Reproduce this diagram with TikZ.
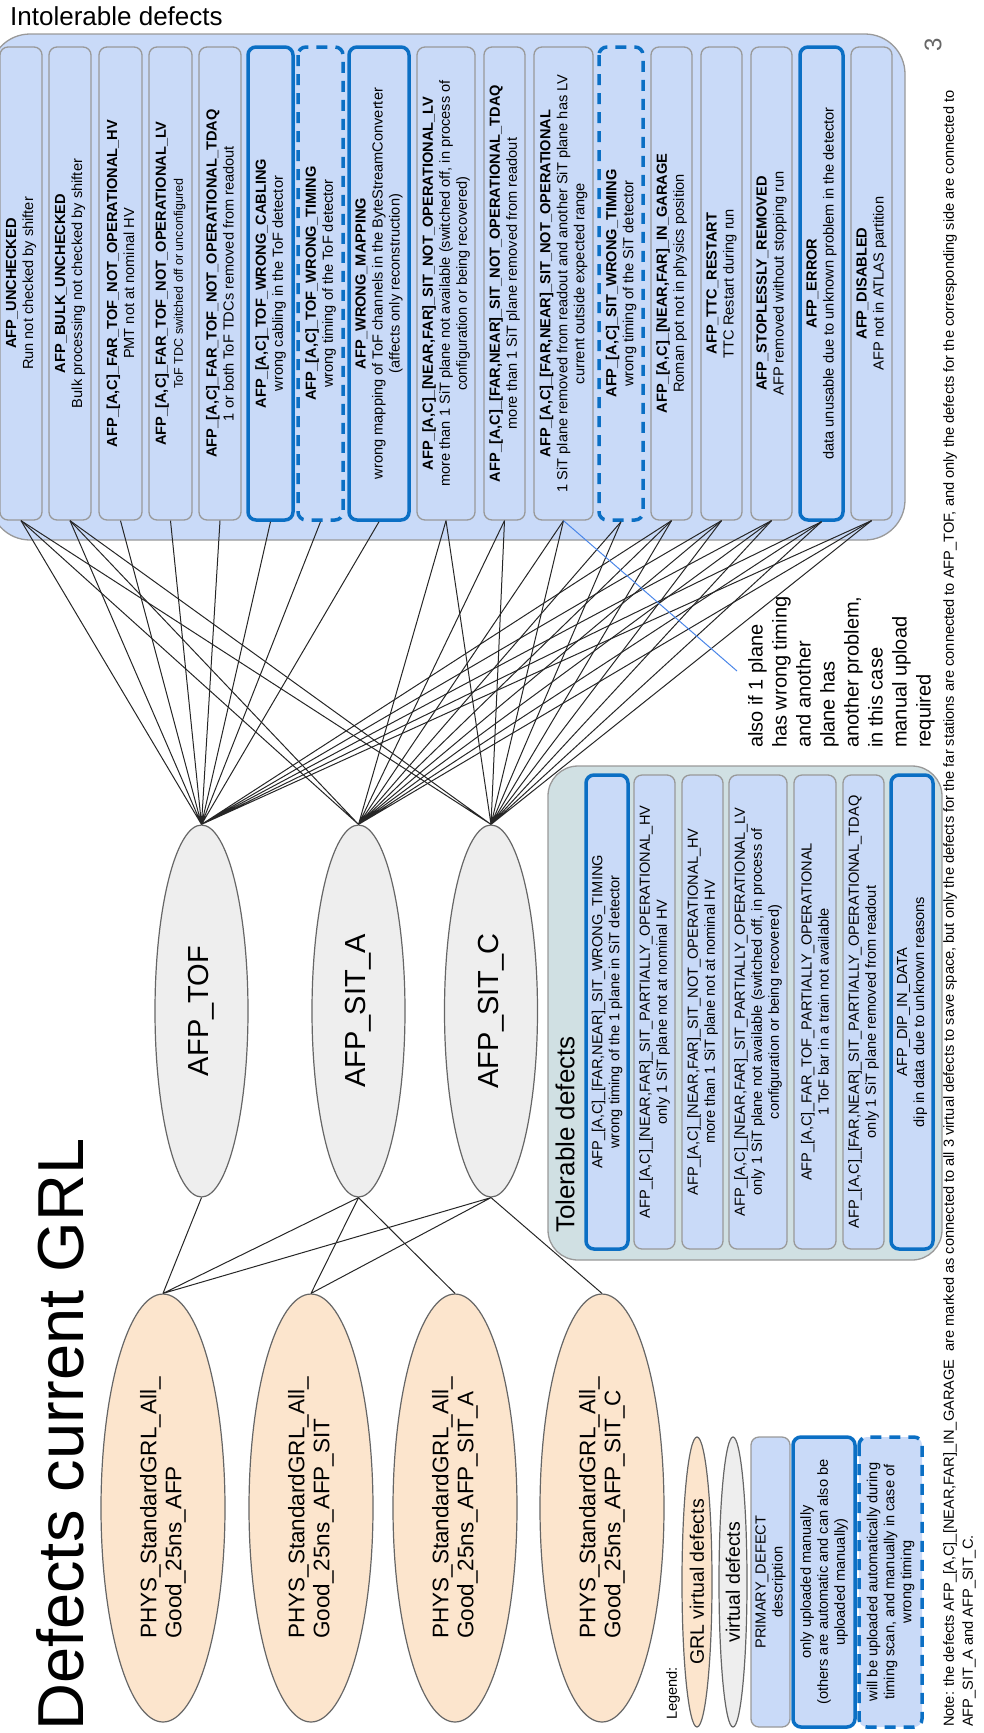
\documentclass[tikz,border=0pt]{standalone}
\usepackage{fontspec}
\setmainfont{Liberation Sans}
\usetikzlibrary{shapes.geometric}

\definecolor{defectfill}{HTML}{C9DAF8}
\definecolor{defectline}{HTML}{999999}
\definecolor{tolfill}{HTML}{D0E0E3}
\definecolor{uploadblue}{HTML}{0B6FC4}
\definecolor{virtfill}{HTML}{EEEEEE}
\definecolor{grlfill}{HTML}{FCE5CD}
\definecolor{ovalline}{HTML}{666666}
\definecolor{remarkblue}{HTML}{4A86E8}
\definecolor{pagegray}{HTML}{666666}

\tikzset{
    defect/.style={draw=defectline, line width=1.3, fill=defectfill, rounded corners=8,
        minimum width=473, inner sep=1, align=center, font=\fontsize{14.6}{17}\selectfont},
    manualonly/.style={draw=uploadblue, line width=3.5},
    autotiming/.style={draw=uploadblue, line width=3.5, dash pattern=on 11 off 8},
    virtdefect/.style={ellipse, draw=ovalline, line width=1.2, fill=virtfill, inner sep=0},
    grldefect/.style={ellipse, draw=ovalline, line width=1.2, fill=grlfill, inner sep=0},
    dep/.style={draw=black!85, line width=1},
}

\begin{document}
\begin{tikzpicture}[x=1pt, y=1pt]
    \useasboundingbox (0,0) rectangle (984,-1733);
    \node[anchor=base west, inner sep=0, font=\fontsize{26}{30}\selectfont] (intoltitle) at (10,-25) {Intolerable defects};

    \begin{scope}[shift={(984,-1733)}, rotate=90, transform shape]
        \draw[draw=defectline, line width=1.3, fill=defectfill, rounded corners=40] (1193,79) rectangle (1699,994);
        \draw[draw=defectline, line width=1.3, fill=tolfill, rounded corners=30] (473,42) rectangle (967,436);

        \node[anchor=base west, inner sep=0, font=\fontsize{65}{78}\selectfont] (title) at (2,901) {Defects current GRL};
        \node[text=pagegray, font=\fontsize{24}{24}\selectfont] (pagenum) at (1688,51) {3};

        \node[defect, minimum height=42] (i1) at (1449.5,963) {\textbf{AFP\_UNCHECKED}\\Run not checked by shifter};
        \node[defect, minimum height=42] (i2) at (1449.5,914) {\textbf{AFP\_BULK\_UNCHECKED}\\Bulk processing not checked by shifter};
        \node[defect, minimum height=43] (i3) at (1449.5,863.5) {\textbf{AFP\_[A,C]\_FAR\_TOF\_NOT\_OPERATIONAL\_HV}\\PMT not at nominal HV};
        \node[defect, minimum height=43] (i4) at (1449.5,813.5) {\textbf{AFP\_[A,C]\_FAR\_TOF\_NOT\_OPERATIONAL\_LV}\\{\fontsize{12.5}{15}\selectfont ToF TDC switched off or unconfigured}};
        \node[defect, minimum height=42] (i5) at (1449.5,764) {\textbf{AFP\_[A,C]\_FAR\_TOF\_NOT\_OPERATIONAL\_TDAQ}\\1 or both ToF TDCs removed from readout};
        \node[defect, manualonly, minimum height=45] (i6) at (1449.5,713.5) {\textbf{AFP\_[A,C]\_TOF\_WRONG\_CABLING}\\wrong cabling in the ToF detector};
        \node[defect, autotiming, minimum height=45] (i7) at (1449.5,663.5) {\textbf{AFP\_[A,C]\_TOF\_WRONG\_TIMING}\\wrong timing of the ToF detector};
        \node[defect, manualonly, minimum height=60] (i8) at (1449.5,605) {\textbf{AFP\_WRONG\_MAPPING}\\wrong mapping of ToF channels in the ByteStreamConverter\\(affects only reconstruction)};
        \node[defect, minimum height=58] (i9) at (1449.5,538) {\textbf{AFP\_[A,C]\_[NEAR,FAR]\_SIT\_NOT\_OPERATIONAL\_LV}\\more than 1 SiT plane not available (switched off, in process of\\configuration or being recovered)};
        \node[defect, minimum height=41] (i10) at (1449.5,479.5) {\textbf{AFP\_[A,C]\_[FAR,NEAR]\_SIT\_NOT\_OPERATIONAL\_TDAQ}\\more than 1 SiT plane removed from readout};
        \node[defect, minimum height=59] (i11) at (1449.5,420.5) {\textbf{AFP\_[A,C]\_[FAR,NEAR]\_SIT\_NOT\_OPERATIONAL}\\1 SiT plane removed from readout and another SiT plane has LV\\current outside expected range};
        \node[defect, autotiming, minimum height=44] (i12) at (1449.5,363) {\textbf{AFP\_[A,C]\_SIT\_WRONG\_TIMING}\\wrong timing of the SiT detector};
        \node[defect, minimum height=41] (i13) at (1449.5,312.5) {\textbf{AFP\_[A,C]\_[NEAR,FAR]\_IN\_GARAGE}\\Roman pot not in physics position};
        \node[defect, minimum height=41] (i14) at (1449.5,262.5) {\textbf{AFP\_TTC\_RESTART}\\TTC Restart during run};
        \node[defect, minimum height=41] (i15) at (1449.5,212.5) {\textbf{AFP\_STOPLESSLY\_REMOVED}\\AFP removed without stopping run};
        \node[defect, manualonly, minimum height=43] (i16) at (1449.5,162.5) {\textbf{AFP\_ERROR}\\data unusable due to unknown problem in the detector};
        \node[defect, minimum height=41] (i17) at (1449.5,112.5) {\textbf{AFP\_DISABLED}\\AFP not in ATLAS partition};

        \node[anchor=west, inner sep=0, font=\fontsize{26}{30}\selectfont] (toltitle) at (500,419) {Tolerable defects};
        \node[defect, manualonly, minimum width=474, minimum height=42] (t1) at (721,377) {AFP\_[A,C]\_[FAR,NEAR]\_SIT\_WRONG\_TIMING\\wrong timing of the 1 plane in SiT detector};
        \node[defect, minimum width=474, minimum height=41] (t2) at (721,329.5) {AFP\_[A,C]\_[NEAR,FAR]\_SIT\_PARTIALLY\_OPERATIONAL\_HV\\only 1 SiT plane not at nominal HV};
        \node[defect, minimum width=474, minimum height=41] (t3) at (721,281.5) {AFP\_[A,C]\_[NEAR,FAR]\_SIT\_NOT\_OPERATIONAL\_HV\\more than 1 SiT plane not at nominal HV};
        \node[defect, minimum width=474, minimum height=58] (t4) at (721,226) {AFP\_[A,C]\_[NEAR,FAR]\_SIT\_PARTIALLY\_OPERATIONAL\_LV\\only 1 SiT plane not available (switched off, in process of\\configuration or being recovered)};
        \node[defect, minimum width=474, minimum height=42] (t5) at (721,169) {AFP\_[A,C]\_FAR\_TOF\_PARTIALLY\_OPERATIONAL\\1 ToF bar in a train not available};
        \node[defect, minimum width=474, minimum height=41] (t6) at (721,120.5) {AFP\_[A,C]\_[FAR,NEAR]\_SIT\_PARTIALLY\_OPERATIONAL\_TDAQ\\only 1 SiT plane removed from readout};
        \node[defect, manualonly, minimum width=474, minimum height=42] (t7) at (721,72) {AFP\_DIP\_IN\_DATA\\dip in data due to unknown reasons};

        \node[virtdefect, minimum width=372, minimum height=93, font=\fontsize{29}{33}\selectfont] (tof) at (722,782.5) {AFP\_TOF};
        \node[virtdefect, minimum width=372, minimum height=93, font=\fontsize{29}{33}\selectfont] (sita) at (722,625.5) {AFP\_SIT\_A};
        \node[virtdefect, minimum width=372, minimum height=93, font=\fontsize{29}{33}\selectfont] (sitc) at (722,493) {AFP\_SIT\_C};

        \node[grldefect, minimum width=428, minimum height=124, align=left, font=\fontsize{22.5}{25}\selectfont] (g1) at (225,821) {PHYS\_StandardGRL\_All\_\\Good\_25ns\_AFP};
        \node[grldefect, minimum width=428, minimum height=124, align=left, font=\fontsize{22.5}{25}\selectfont] (g2) at (225,673) {PHYS\_StandardGRL\_All\_\\Good\_25ns\_AFP\_SIT};
        \node[grldefect, minimum width=428, minimum height=124, align=left, font=\fontsize{22.5}{25}\selectfont] (g3) at (225,529) {PHYS\_StandardGRL\_All\_\\Good\_25ns\_AFP\_SIT\_A};
        \node[grldefect, minimum width=428, minimum height=124, align=left, font=\fontsize{22.5}{25}\selectfont] (g4) at (225,382) {PHYS\_StandardGRL\_All\_\\Good\_25ns\_AFP\_SIT\_C};

        \draw[dep] (i1.west) -- (tof.east) (i2.west) -- (tof.east) (i3.west) -- (tof.east)
            (i4.west) -- (tof.east) (i5.west) -- (tof.east) (i6.west) -- (tof.east)
            (i7.west) -- (tof.east) (i8.west) -- (tof.east) (i13.west) -- (tof.east)
            (i14.west) -- (tof.east) (i15.west) -- (tof.east) (i16.west) -- (tof.east)
            (i17.west) -- (tof.east);
        \draw[dep] (i1.west) -- (sita.east) (i2.west) -- (sita.east) (i9.west) -- (sita.east)
            (i10.west) -- (sita.east) (i11.west) -- (sita.east) (i12.west) -- (sita.east)
            (i13.west) -- (sita.east) (i14.west) -- (sita.east) (i15.west) -- (sita.east)
            (i16.west) -- (sita.east) (i17.west) -- (sita.east);
        \draw[dep] (i1.west) -- (sitc.east) (i2.west) -- (sitc.east) (i9.west) -- (sitc.east)
            (i10.west) -- (sitc.east) (i11.west) -- (sitc.east) (i12.west) -- (sitc.east)
            (i13.west) -- (sitc.east) (i14.west) -- (sitc.east) (i15.west) -- (sitc.east)
            (i16.west) -- (sitc.east) (i17.west) -- (sitc.east);
        \draw[dep] (tof.west) -- (g1.east)
            (sita.west) -- (g1.east) (sita.west) -- (g2.east) (sita.west) -- (g3.east)
            (sitc.west) -- (g1.east) (sitc.west) -- (g2.east) (sitc.west) -- (g4.east);

        \coordinate (remarktip) at (1062,247);
        \draw[remarkblue, line width=1] (i11.west) -- (remarktip);
        \node[anchor=north west, inner sep=0, align=left, font=\fontsize{20}{24}\selectfont] (remark) at (985,236)
            {also if 1 plane\\has wrong timing\\and another\\plane has\\another problem,\\in this case\\manual upload\\required};

        \node[anchor=west, inner sep=0, font=\fontsize{14.6}{17}\selectfont] (legend) at (13,311) {Legend:};
        \node[grldefect, minimum width=290, minimum height=30, font=\fontsize{19.5}{22}\selectfont] (leggrl) at (151,287) {GRL virtual defects};
        \node[virtdefect, minimum width=290, minimum height=28, font=\fontsize{19.5}{22}\selectfont] (legvirt) at (151,251) {virtual defects};
        \node[defect, minimum width=290, minimum height=39] (legprim) at (151,213.5) {PRIMARY\_DEFECT\\description};
        \node[defect, manualonly, minimum width=290, minimum height=62] (legmanual) at (151,160) {only uploaded manually\\(others are automatic and can also be\\uploaded manually)};
        \node[defect, autotiming, minimum width=290, minimum height=63] (legtiming) at (151,93.5) {will be uploaded automatically during\\timing scan, and manually in case of\\wrong timing};

        \node[anchor=north west, inner sep=0, align=left, font=\fontsize{14.6}{19}\selectfont] (note) at (6,41)
            {Note: the defects AFP\_[A,C]\_[NEAR,FAR]\_IN\_GARAGE~ are marked as connected to all 3 virtual defects to save space, but only the defects for the far stations are connected to AFP\_TOF, and only the defects for the corresponding side are connected to\\AFP\_SIT\_A and AFP\_SIT\_C.};
    \end{scope}
\end{tikzpicture}
\end{document}
